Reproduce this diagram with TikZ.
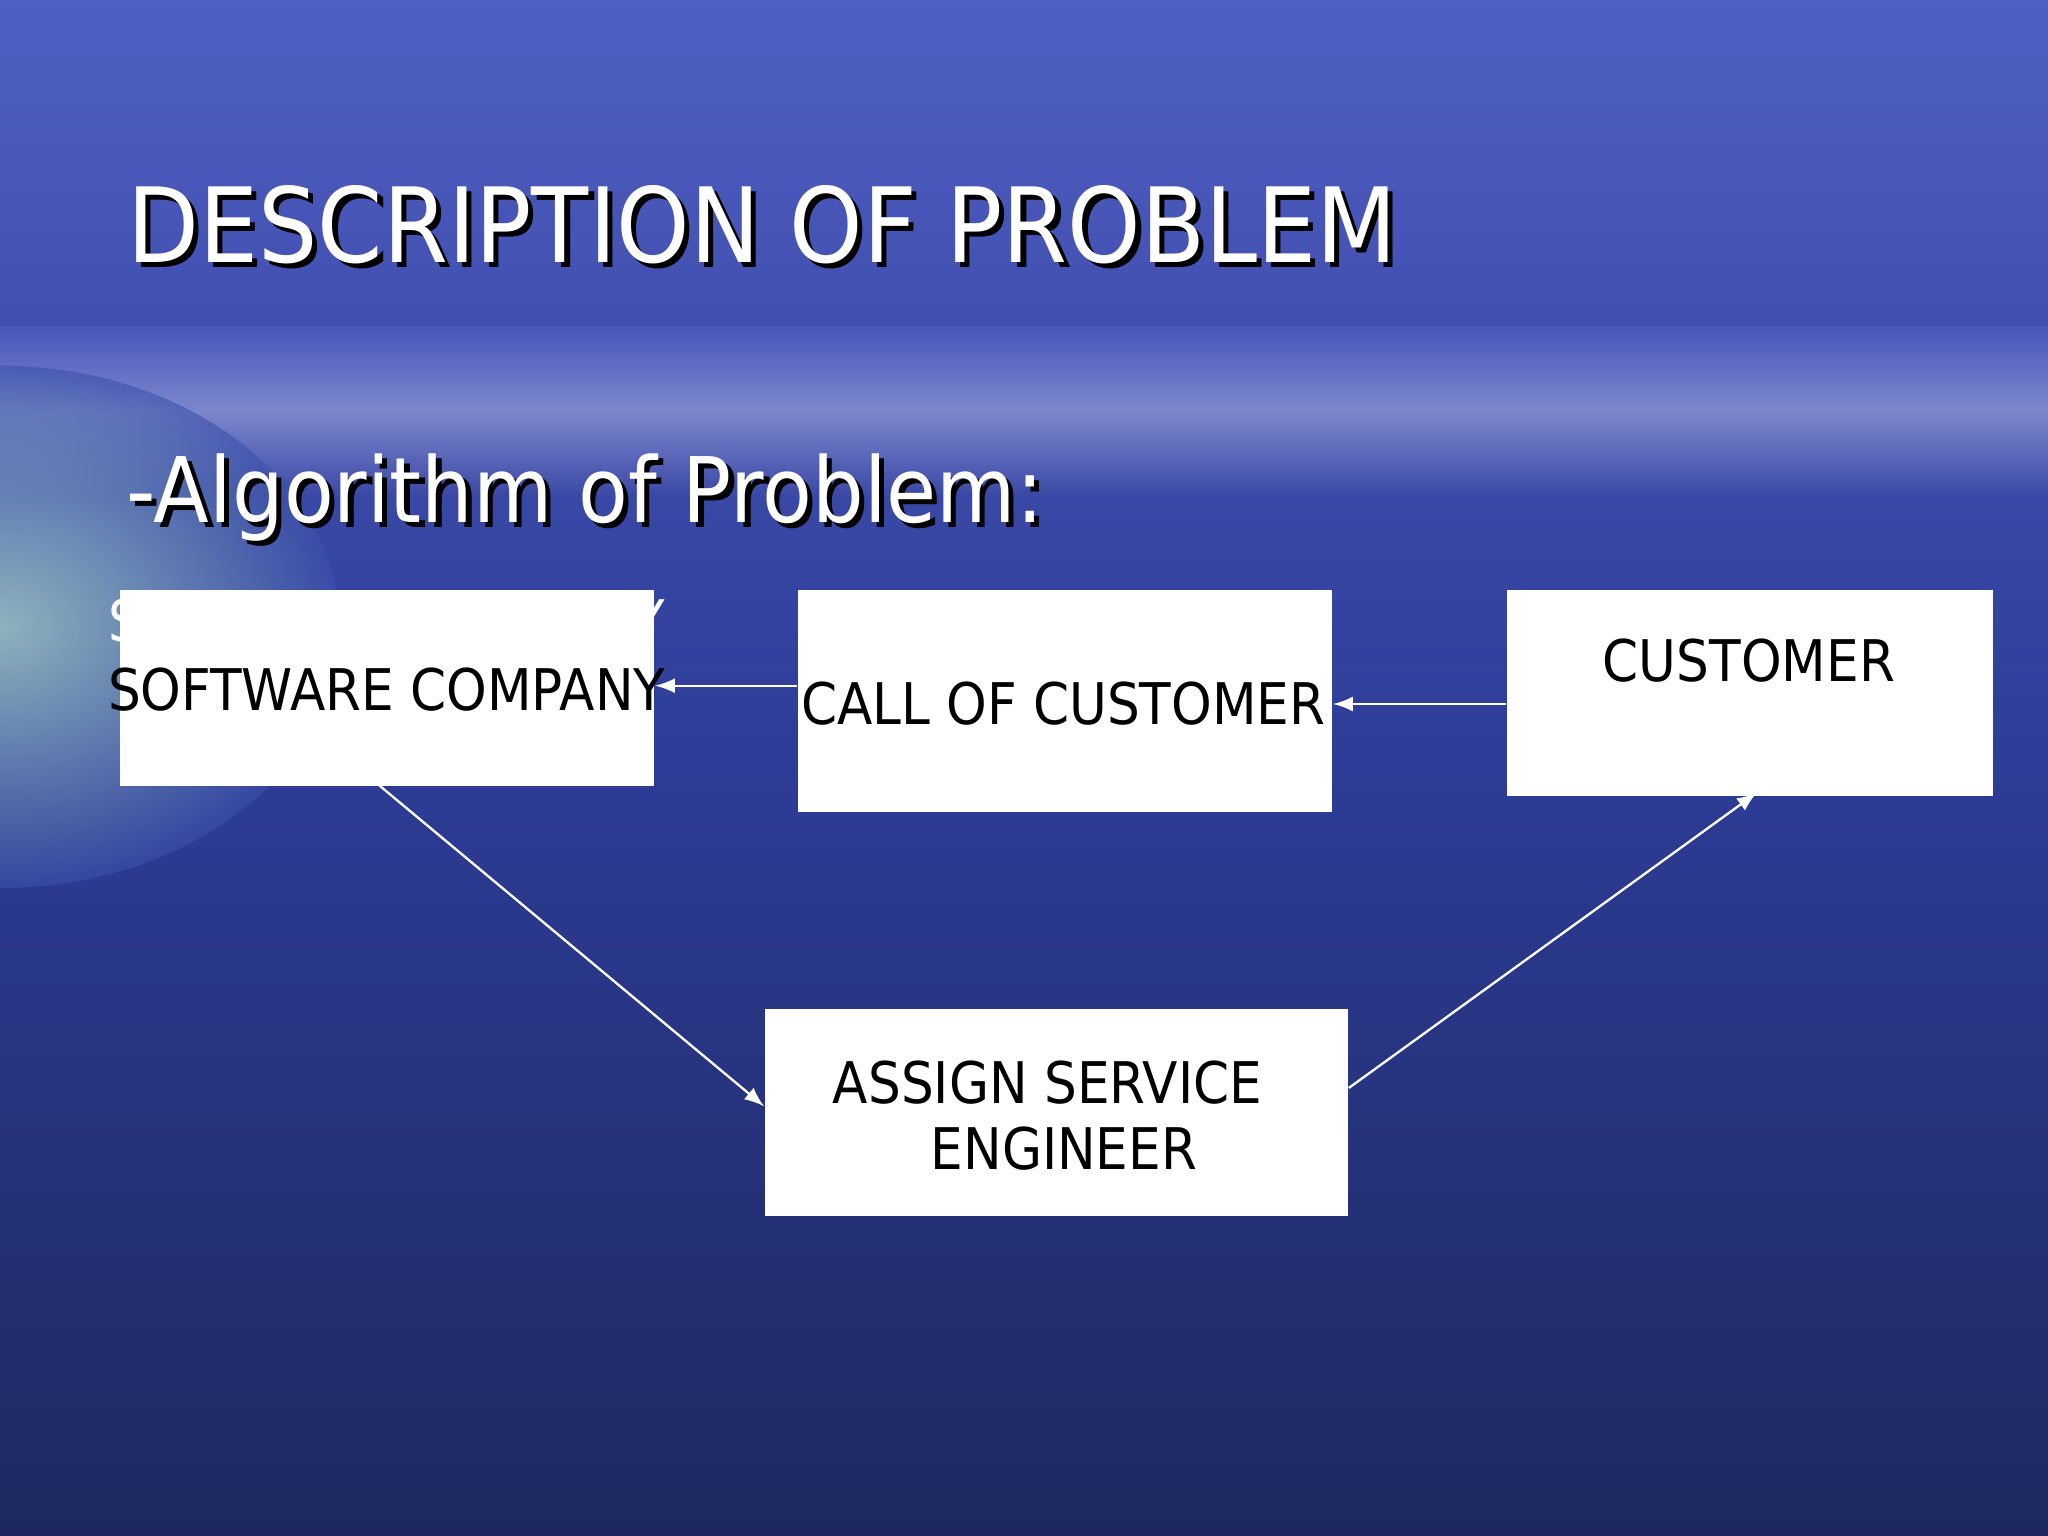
\documentclass[tikz,border=0pt]{standalone}
\usepackage{fontspec}
\setmainfont[FakeStretch=0.9]{DejaVu Sans}
\begin{document}
\begin{tikzpicture}[x=0.01cm,y=-0.01cm,
  box/.style={fill=white,draw=none,inner sep=0pt,anchor=north west},
  lbl/.style={font=\fontsize{12.5}{15}\selectfont,text=black,inner sep=0pt},
  arr/.style={draw=white,line width=0.5pt,-latex}]
\useasboundingbox (0,0) rectangle (1568,1176);
\shade[top color={rgb,255:red,80;green,95;blue,195},bottom color={rgb,255:red,30;green,40;blue,95},middle color={rgb,255:red,45;green,60;blue,150}] (0,0) rectangle (1568,1176);
\shade[top color={rgb,255:red,72;green,86;blue,185},bottom color={rgb,255:red,58;green,72;blue,165},middle color={rgb,255:red,125;green,135;blue,205}] (0,250) rectangle (1568,380);
\shade[inner color={rgb,255:red,200;green,255;blue,210},outer color={rgb,255:red,60;green,80;blue,170},opacity=0.6] (0,480) ellipse (260 and 200);
\node[anchor=west,inner sep=0pt,text=black,font=\fontsize{22.6}{28}\selectfont] at (101,176) {DESCRIPTION OF PROBLEM};
\node[anchor=west,inner sep=0pt,text=white,font=\fontsize{22.6}{28}\selectfont] at (97,172) {DESCRIPTION OF PROBLEM};
\node[anchor=west,inner sep=0pt,text=black,font=\fontsize{19.7}{24}\selectfont] at (100,385) {-Algorithm of Problem:};
\node[anchor=west,inner sep=0pt,text=white,font=\fontsize{19.7}{24}\selectfont] at (96,381) {-Algorithm of Problem:};
\node[anchor=west,inner sep=0pt,text=white,font=\fontsize{12.5}{15}\selectfont] (ghost) at (82,475) {SOFTWARE COMPANY};
\node[box,minimum width=4.09cm,minimum height=1.5cm] (sw) at (91,451) {};
\node[box,minimum width=4.09cm,minimum height=1.7cm] (call) at (610,451) {};
\node[box,minimum width=3.72cm,minimum height=1.58cm] (cust) at (1153,451) {};
\node[box,minimum width=4.46cm,minimum height=1.58cm] (asg) at (585,772) {};
\node[lbl,anchor=west] (swt) at (82,528) {SOFTWARE COMPANY};
\node[lbl] (callt) at (814,539) {CALL OF CUSTOMER};
\node[lbl] (custt) at (1339,506) {CUSTOMER};
\node[lbl,align=center] (asgt) at (802,854) {ASSIGN SERVICE\\[-0.5pt] \ \ ENGINEER};
\draw[arr] (cust.west |- 0,539) -- (call.east |- 0,539);
\draw[arr] (call.west |- 0,525) -- (sw.east |- 0,525);
\draw[arr] (290,601) -- (asg.west |- 0,847);
\draw[arr] (asg.east |- 0,833) -- (1345,607);
\end{tikzpicture}
\end{document}
